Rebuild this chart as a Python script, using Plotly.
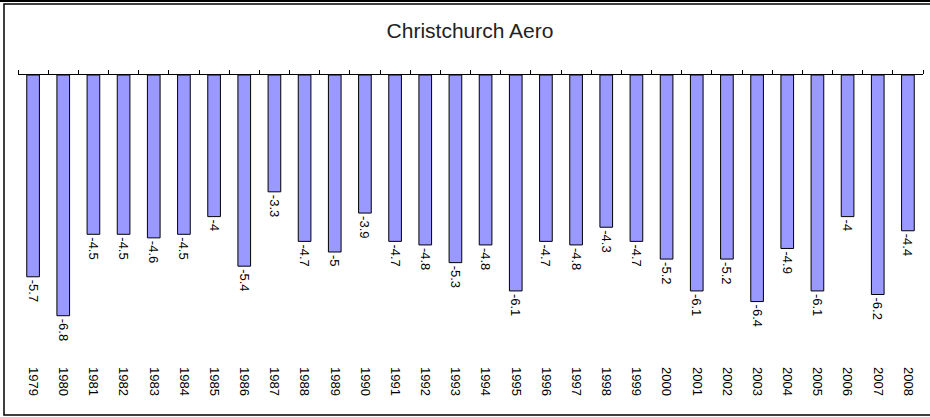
import plotly.graph_objects as go

years = [str(y) for y in range(1979, 2009)]
values = [-5.7, -6.8, -4.5, -4.5, -4.6, -4.5, -4.0, -5.4, -3.3, -4.7,
          -5.0, -3.9, -4.7, -4.8, -5.3, -4.8, -6.1, -4.7, -4.8, -4.3,
          -4.7, -5.2, -6.1, -5.2, -6.4, -4.9, -6.1, -4.0, -6.2, -4.4]
value_labels = [("%g" % v) for v in values]
title_text = "Christchurch Aero"

n = len(years)
positions = list(range(n))
boundaries = [i - 0.5 for i in range(n + 1)]

W, H = 930, 417
L, R, T, B = 18, 7, 75, 51
PW, PH = W - L - R, H - T - B


def px(x):
    return (x - L) / PW


def py(y):
    return (H - B - y) / PH


fig = go.Figure()
fig.add_trace(go.Bar(
    x=positions, y=values,
    text=value_labels, textposition="outside", textangle=90,
    constraintext="none",
    textfont=dict(family="Liberation Sans, Arial", size=13, color="black"),
    marker=dict(color="#9999FF", line=dict(color="black", width=1)),
    cliponaxis=False, hoverinfo="skip",
))
fig.add_trace(go.Scatter(
    x=[boundaries[0], boundaries[-1]], y=[0, 0], xaxis="x2", yaxis="y",
    mode="lines", line=dict(color="rgba(0,0,0,0)"), hoverinfo="skip", showlegend=False,
))

fig.update_layout(
    width=W, height=H,
    margin=dict(l=L, r=R, t=T, b=B, autoexpand=False),
    paper_bgcolor="white", plot_bgcolor="white",
    showlegend=False,
    bargap=0.58,
    title=dict(text=title_text, x=px(470), xref="paper", xanchor="center",
               y=1 - 31 / H, yref="container", yanchor="middle",
               font=dict(family="Liberation Sans, Arial", size=21, color="#222222")),
    xaxis=dict(range=[-0.5, n - 0.5], tickmode="array", tickvals=positions, ticktext=years,
               tickangle=90, showline=False, showgrid=False, zeroline=False, ticks="",
               automargin=False,
               tickfont=dict(family="Liberation Sans, Arial", size=13, color="black")),
    xaxis2=dict(range=[-0.5, n - 0.5], overlaying="x", side="top", anchor="y",
                tickmode="array", tickvals=boundaries, showticklabels=False,
                ticks="outside", ticklen=4, tickwidth=1, tickcolor="black", automargin=False,
                showline=True, linecolor="black", linewidth=1, showgrid=False, zeroline=False),
    yaxis=dict(range=[-8.22, 0], visible=False, automargin=False),
    shapes=[
        dict(type="line", xref="paper", yref="paper",
             x0=px(-2), x1=px(W + 2), y0=py(1), y1=py(1),
             line=dict(color="black", width=2), layer="above"),
        dict(type="rect", xref="paper", yref="paper",
             x0=px(4), x1=px(W + 10), y0=py(415), y1=py(4),
             line=dict(color="black", width=1.5), fillcolor="rgba(0,0,0,0)", layer="above"),
    ],
)

fig.write_html("out.html", config={"displayModeBar": False},
               post_script="document.body.style.margin='0px';document.body.style.overflow='hidden';")
